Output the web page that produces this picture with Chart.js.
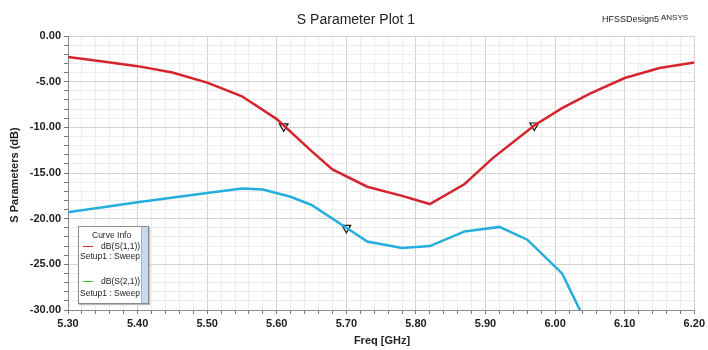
<!DOCTYPE html>
<html>
<head>
<meta charset="utf-8">
<script src="https://cdn.jsdelivr.net/npm/chart.js@4/dist/chart.umd.min.js"></script>
<style>
  body { margin: 0; background: #fff; }
  #wrap { position: relative; width: 708px; height: 350px; }
  #curveInfo {
    position: absolute; left: 78px; top: 226px; width: 69px; height: 76px;
    border: 1px solid #8a8a8a; background: #fff; overflow: hidden;
    font-family: "Liberation Sans", Arial, sans-serif; font-size: 8.5px; color: #222;
    box-shadow: 1px 1px 1px #bbb;
  }
  #curveInfo .bar { position: absolute; right: 0; top: 0; width: 6px; height: 76px; background: #c9d9ee; border-left: 1px solid #9fb3cf; }
  #curveInfo .row { position: absolute; white-space: nowrap; }
  #curveInfo .swatch { position: absolute; width: 10px; height: 0; border-top: 1px solid; }
</style>
</head>
<body>
<div id="wrap">
  <canvas id="myChart" width="708" height="350"></canvas>
  <div id="curveInfo">
    <div class="row" style="left:13px;top:3px;">Curve Info</div>
    <div class="swatch" style="left:4px;top:19px;border-color:#d42a2f;"></div>
    <div class="row" style="left:22px;top:14px;">dB(S(1,1))</div>
    <div class="row" style="left:1px;top:24px;">Setup1 : Sweep</div>
    <div class="swatch" style="left:4px;top:54px;border-color:#3cc43c;"></div>
    <div class="row" style="left:22px;top:49px;">dB(S(2,1))</div>
    <div class="row" style="left:1px;top:61px;">Setup1 : Sweep</div>
    <div class="bar"></div>
  </div>
</div>
<script>
// frequencies (GHz) and dB values
var freqS11 = [5.30, 5.35, 5.40, 5.45, 5.50, 5.55, 5.60, 5.65, 5.68, 5.73, 5.78, 5.82, 5.87, 5.91, 5.97, 6.01, 6.05, 6.10, 6.15, 6.20];
var dbS11   = [-2.3, -2.8, -3.3, -4.0, -5.1, -6.6, -9.1, -12.6, -14.6, -16.5, -17.5, -18.4, -16.2, -13.4, -9.8, -7.9, -6.3, -4.6, -3.5, -2.9];

var freqS21 = [5.30, 5.40, 5.50, 5.55, 5.58, 5.62, 5.65, 5.70, 5.73, 5.78, 5.82, 5.87, 5.92, 5.96, 6.01, 6.035, 6.06];
var dbS21   = [-19.3, -18.2, -17.2, -16.7, -16.8, -17.6, -18.5, -21.0, -22.5, -23.2, -23.0, -21.4, -20.9, -22.3, -26.0, -29.9, -33.0];

// marker triangles
var markerFreq = [5.61, 5.97, 5.70];
var markerDb   = [-9.9, -9.8, -21.0];

var xTicks = ['5.30', '5.40', '5.50', '5.60', '5.70', '5.80', '5.90', '6.00', '6.10', '6.20'];
var yTicks = ['0.00', '-5.00', '-10.00', '-15.00', '-20.00', '-25.00', '-30.00'];

function pts(xs, ys) {
    var out = [];
    for (var i = 0; i < xs.length; i++) out.push({ x: xs[i], y: ys[i] });
    return out;
}

function isMajor(v, step) {
    var r = v / step;
    return Math.abs(r - Math.round(r)) < 1e-6;
}

var FONT = '"Liberation Sans", Arial, sans-serif';

const textPlugin = {
    id: 'texts',
    afterDraw(chart) {
        var ctx = chart.ctx;
        ctx.save();
        ctx.fillStyle = '#222';
        ctx.textBaseline = 'middle';
        ctx.textAlign = 'center';
        ctx.font = '14px ' + FONT;
        ctx.fillText('S Parameter Plot 1', 356, 20);
        ctx.textAlign = 'left';
        ctx.font = '9px ' + FONT;
        ctx.fillText('HFSSDesign5', 602, 20);
        ctx.font = '8px ' + FONT;
        ctx.fillText('ANSYS', 661, 18);
        ctx.textAlign = 'center';
        ctx.font = 'bold 11px ' + FONT;
        ctx.fillText('Freq [GHz]', 382, 341);
        ctx.translate(15, 175);
        ctx.rotate(-Math.PI / 2);
        ctx.fillText('S Parameters (dB)', 0, 0);
        ctx.restore();
    }
};

const config = {
    type: 'line',
    data: {
        datasets: [{
            label: 'dB(S(1,1))',
            data: pts(freqS11, dbS11),
            borderColor: 'rgb(214, 36, 44)',
            borderWidth: 2.5,
            pointRadius: 0,
            tension: 0
        }, {
            label: 'dB(S(2,1))',
            data: pts(freqS21, dbS21),
            borderColor: 'rgb(36, 174, 222)',
            borderWidth: 2.5,
            pointRadius: 0,
            tension: 0
        }, {
            label: 'markers',
            data: pts(markerFreq, markerDb),
            showLine: false,
            pointStyle: 'triangle',
            pointRotation: 180,
            pointRadius: 5,
            pointBorderWidth: 1.2,
            pointBorderColor: '#111',
            pointBackgroundColor: '#fff'
        }]
    },
    options: {
        responsive: false,
        animation: false,
        layout: { padding: { top: 36, right: 11, left: 0, bottom: 0 } },
        plugins: { legend: { display: false }, tooltip: { enabled: false } },
        scales: {
            x: {
                type: 'linear',
                min: 5.3,
                max: 6.2,
                afterFit: function (s) { s.height = 40; },
                border: { color: '#8c8c8c', width: 1 },
                grid: {
                    color: function (c) { return isMajor(c.tick.value, 0.1) ? '#d2d2d2' : '#ececec'; },
                    tickColor: '#777',
                    tickLength: 4
                },
                ticks: {
                    stepSize: 0.02,
                    autoSkip: false,
                    maxRotation: 0,
                    padding: 3,
                    color: '#222',
                    font: { family: FONT, size: 11, weight: 'bold' },
                    callback: function (v) {
                        if (!isMajor(v, 0.1)) return '';
                        return xTicks[Math.round((v - 5.3) * 10)];
                    }
                }
            },
            y: {
                min: -30,
                max: 0,
                afterFit: function (s) { s.width = 68; },
                border: { color: '#8c8c8c', width: 1 },
                grid: {
                    color: function (c) { return isMajor(c.tick.value, 5) ? '#d2d2d2' : '#ececec'; },
                    tickColor: '#777',
                    tickLength: 4
                },
                ticks: {
                    stepSize: 1,
                    autoSkip: false,
                    padding: 3,
                    color: '#222',
                    font: { family: FONT, size: 11, weight: 'bold' },
                    callback: function (v) {
                        if (!isMajor(v, 5)) return '';
                        return yTicks[Math.round(-v / 5)];
                    }
                }
            }
        }
    },
    plugins: [textPlugin]
};

var myChart = new Chart(document.getElementById('myChart'), config);
</script>
</body>
</html>
